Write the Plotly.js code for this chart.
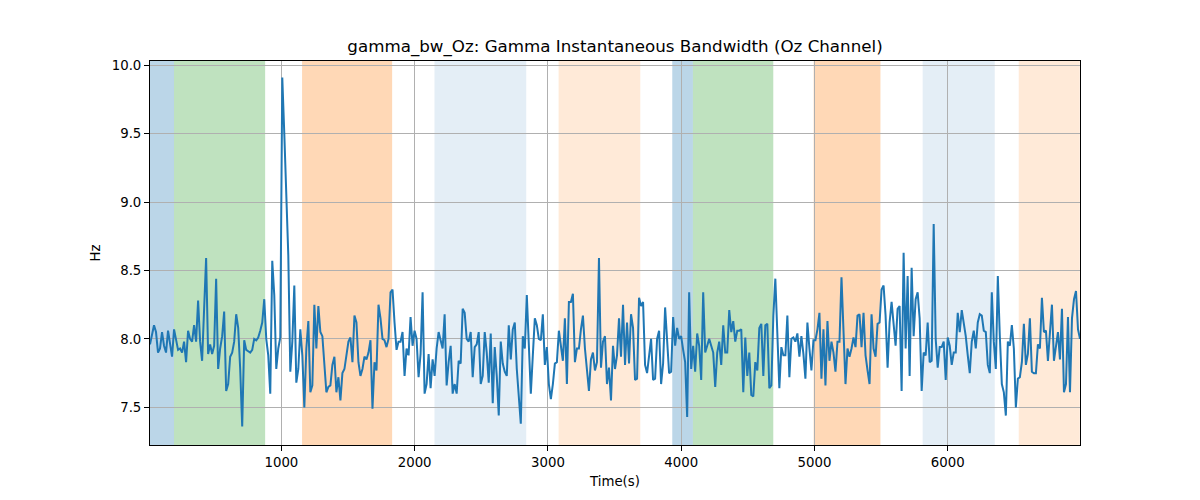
<!DOCTYPE html>
<html>
<head>
<meta charset="utf-8">
<script src="https://cdn.plot.ly/plotly-3.0.1.min.js"></script>
<style>html,body{margin:0;padding:0;background:#fff;}#chart{width:1200px;height:500px;}</style>
</head>
<body>
<div id="chart"></div>
<script>
// Time axis: first sample time and sampling interval (s)
const timeStart = 14;
const timeStep = 15.04;

// Gamma instantaneous bandwidth (Hz) in six consecutive segments
const bwSeg1 = [7.96, 8.04, 8.10, 8.05, 7.90, 7.93, 8.05, 7.95, 7.90, 8.06,
  7.95, 7.87, 8.07, 8.00, 7.92, 7.93, 7.90, 7.98, 7.83, 8.06,
  8.00, 7.98, 8.10, 7.98, 8.28, 7.98, 7.84, 8.22, 8.59, 7.89,
  7.96, 7.89, 7.95, 8.44, 7.78, 7.93, 8.02, 8.20, 7.62, 7.67,
  7.87, 7.90, 7.98, 8.18, 8.08, 7.78, 7.36, 7.99, 7.92, 7.91,
  7.90, 7.92, 8.00, 7.99, 8.01, 8.06, 8.12, 8.29, 8.00, 7.88,
  7.60, 8.57, 8.32, 7.78, 7.93, 8.01, 9.91, 9.50, 9.02, 8.61,
  7.76, 7.98, 8.39, 7.68];
const bwSeg2 = [7.78, 8.07, 7.88, 7.50, 7.93, 8.13, 7.61, 7.66, 8.25, 7.93,
  8.24, 8.05, 8.02, 7.81, 7.61, 7.65, 7.66, 7.81, 7.87, 7.61,
  7.72, 7.55, 7.75, 7.78, 7.90, 7.98, 8.01, 7.83, 8.17, 8.12,
  7.83, 7.73, 7.78, 7.87, 7.85, 7.90, 7.99, 7.49, 7.83, 7.77,
  8.25, 8.15, 8.00, 7.99, 7.94, 8.00, 8.34, 8.36, 8.12, 7.92,
  7.98, 7.98, 8.05, 7.73, 7.93, 7.88, 8.16, 7.95, 8.06, 8.00,
  7.72, 7.89, 8.34, 7.60, 7.67, 7.89, 7.64, 7.85, 7.73, 7.93,
  8.05, 7.98, 7.93, 8.18, 7.66];
const bwSeg3 = [7.83, 7.95, 7.60, 7.67, 7.60, 7.84, 7.82, 8.22, 8.19, 8.00,
  7.98, 8.05, 7.72, 7.94, 7.96, 8.05, 7.67, 7.73, 8.05, 7.90,
  7.68, 8.04, 7.53, 7.94, 7.73, 7.44, 7.98, 7.82, 7.76, 7.73,
  8.10, 7.85, 8.07, 8.12, 7.78, 7.56, 7.38, 8.02, 7.93, 8.32,
  7.95, 7.60, 7.88, 8.15, 8.10, 8.00, 7.99, 8.18, 7.81, 7.94,
  7.67, 7.56, 7.67, 7.82, 7.83, 8.06, 7.95, 7.84, 8.15, 7.67,
  8.27, 8.27, 8.33, 7.83, 7.93, 7.93, 8.07, 8.17, 7.93, 7.78,
  7.62, 7.85, 7.90, 7.77, 7.83];
const bwSeg4 = [8.59, 7.79, 7.98, 8.02, 7.67, 7.79, 7.55, 7.95, 7.78, 7.88,
  8.15, 7.87, 8.25, 7.81, 8.12, 7.82, 8.18, 8.08, 7.70, 7.71,
  8.30, 8.24, 8.27, 7.81, 7.75, 7.88, 8.00, 7.70, 7.71, 8.00,
  8.06, 7.67, 7.82, 8.23, 8.00, 7.75, 7.76, 8.16, 7.95, 8.08,
  8.00, 8.02, 7.92, 7.83, 7.43, 8.34, 7.78, 7.95, 7.76, 8.04,
  7.95, 7.70, 8.34, 7.90, 7.95, 8.00, 7.95, 7.90, 7.65, 7.90,
  7.98, 7.81, 8.10, 7.90, 7.90, 8.21, 8.05, 8.13, 7.98, 8.06,
  8.06, 8.07, 7.61, 8.01, 7.73];
const bwSeg5 = [7.90, 7.59, 7.58, 7.83, 7.77, 8.08, 8.11, 7.73, 8.10, 8.11,
  7.64, 7.66, 8.17, 8.44, 8.00, 7.64, 7.94, 7.88, 7.88, 8.17,
  7.72, 8.00, 8.01, 7.98, 8.04, 7.87, 8.02, 7.89, 7.71, 8.12,
  7.93, 7.77, 7.99, 7.99, 8.07, 8.19, 7.71, 8.07, 7.66, 8.13,
  7.84, 7.98, 7.90, 7.76, 7.98, 7.98, 8.45, 7.98, 7.67, 7.93,
  7.87, 7.93, 8.01, 7.94, 8.17, 8.18, 7.94, 8.19, 7.88, 7.77,
  7.67, 8.18, 7.93, 7.87, 8.11, 8.12, 8.36, 8.39, 8.17, 7.79,
  8.12, 8.27, 8.11, 7.95, 8.22];
const bwSeg6 = [8.24, 7.62, 8.63, 7.93, 8.46, 7.73, 8.52, 8.02, 8.29, 8.34,
  8.15, 7.62, 7.90, 7.88, 8.12, 7.83, 7.84, 8.84, 8.00, 7.79,
  7.94, 7.94, 7.98, 7.70, 8.01, 7.95, 7.81, 7.90, 7.90, 8.19,
  8.05, 8.21, 8.12, 8.02, 7.88, 7.75, 7.98, 8.06, 7.93, 8.12,
  8.18, 8.17, 8.06, 8.05, 7.81, 7.75, 8.34, 7.98, 7.78, 8.46,
  8.02, 7.67, 7.61, 7.44, 7.98, 7.95, 8.10, 7.93, 7.50, 7.71,
  7.72, 7.83, 8.11, 7.81, 7.89, 8.15, 7.76, 7.75, 7.75, 7.96,
  7.93, 8.30, 8.05, 8.06, 7.84, 8.07, 8.25, 7.84, 7.93, 8.05,
  7.85, 8.22, 7.61, 7.67, 8.16, 7.61, 8.15, 8.29, 8.35, 8.07,
  8.00];

// Shaded intervals (s) and their kind
const spanStart = [14, 194, 1155, 2149, 3080, 3933, 4088, 4994, 5812, 6533];
const spanEnd   = [194, 878, 1831, 2837, 3693, 4088, 4691, 5495, 6353, 6991];
const spanKind  = ['blue', 'green', 'orange', 'lightblue', 'lightorange',
                   'blue', 'green', 'orange', 'lightblue', 'lightorange'];

const yTicks = [7.5, 8.0, 8.5, 9.0, 9.5, 10.0];
const xTicks = [1000, 2000, 3000, 4000, 5000, 6000];

const kindColor = {
  blue: 'rgba(31,119,180,0.3)',
  green: 'rgba(44,160,44,0.3)',
  orange: 'rgba(255,127,14,0.3)',
  lightblue: 'rgba(31,119,180,0.12)',
  lightorange: 'rgba(255,127,14,0.16)'
};

const bw = [].concat(bwSeg1, bwSeg2, bwSeg3, bwSeg4, bwSeg5, bwSeg6);
const time = bw.map((_, i) => timeStart + i * timeStep);

const shapes = spanStart.map((s, i) => ({
  type: 'rect', xref: 'x', yref: 'paper', x0: s, x1: spanEnd[i], y0: 0, y1: 1,
  fillcolor: kindColor[spanKind[i]], line: {width: 0}, layer: 'below'
}));

const font = 'DejaVu Sans, sans-serif';
const axisCommon = {
  showline: true, mirror: true, linecolor: '#000', linewidth: 1,
  ticks: 'outside', ticklen: 5, tickwidth: 1, tickcolor: '#000',
  showgrid: true, gridcolor: '#b0b0b0', gridwidth: 1, zeroline: false,
  tickfont: {family: font, size: 13.3, color: '#000'}
};

const trace = {
  x: time, y: bw, type: 'scatter', mode: 'lines',
  line: {color: '#1f77b4', width: 2}, hoverinfo: 'skip'
};

const layout = {
  width: 1200, height: 500,
  margin: {l: 150, r: 120, t: 61, b: 55},
  paper_bgcolor: '#fff', plot_bgcolor: 'rgba(0,0,0,0)',
  showlegend: false,
  title: {text: 'gamma_bw_Oz: Gamma Instantaneous Bandwidth (Oz Channel)',
          font: {family: font, size: 16.7, color: '#000'},
          x: 0.5125, xanchor: 'center', yref: 'container', y: 0.908, yanchor: 'middle'},
  xaxis: Object.assign({}, axisCommon, {
    range: [timeStart, time[time.length - 1]],
    tickvals: xTicks, ticktext: xTicks.map(String),
    title: {text: 'Time(s)', font: {family: font, size: 13.3, color: '#000'}, standoff: 7}
  }),
  yaxis: Object.assign({}, axisCommon, {
    range: [7.225, 10.03],
    tickvals: yTicks, ticktext: yTicks.map(v => v.toFixed(1)),
    title: {text: 'Hz', font: {family: font, size: 13.3, color: '#000'}, standoff: 8}
  }),
  shapes: shapes
};

Plotly.newPlot('chart', [trace], layout, {staticPlot: true, displayModeBar: false});
</script>
</body>
</html>
